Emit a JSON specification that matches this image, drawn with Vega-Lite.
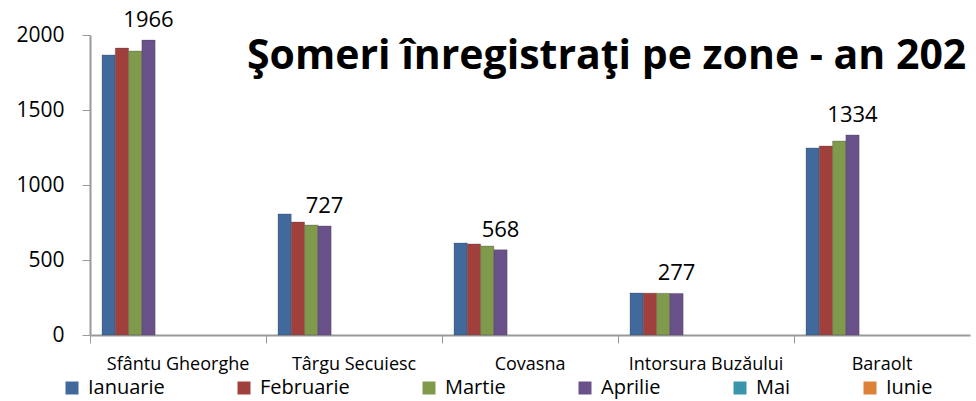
{
  "$schema": "https://vega.github.io/schema/vega-lite/v6.json",
  "autosize": {"type": "none"},
  "width": 880,
  "height": 300,
  "padding": {"left": 90, "top": 35, "right": 6, "bottom": 66},
  "background": "white",
  "config": {
    "view": {"stroke": null},
    "font": "Open Sans"
  },
  "title": {
    "text": "Şomeri înregistraţi pe zone - an 202",
    "anchor": "start",
    "frame": "group",
    "orient": "top",
    "offset": -29,
    "baseline": "alphabetic",
    "dx": 157,
    "dy": 72,
    "font": "Open Sans",
    "fontSize": 41,
    "fontWeight": "bold",
    "color": "#000000"
  },
  "data": {
    "values": [
      {"zona": "Sfântu Gheorghe", "luna": "Ianuarie", "someri": 1867},
      {"zona": "Sfântu Gheorghe", "luna": "Februarie", "someri": 1913},
      {"zona": "Sfântu Gheorghe", "luna": "Martie", "someri": 1893},
      {"zona": "Sfântu Gheorghe", "luna": "Aprilie", "someri": 1966},
      {"zona": "Târgu Secuiesc", "luna": "Ianuarie", "someri": 807},
      {"zona": "Târgu Secuiesc", "luna": "Februarie", "someri": 753},
      {"zona": "Târgu Secuiesc", "luna": "Martie", "someri": 733},
      {"zona": "Târgu Secuiesc", "luna": "Aprilie", "someri": 727},
      {"zona": "Covasna", "luna": "Ianuarie", "someri": 613},
      {"zona": "Covasna", "luna": "Februarie", "someri": 607},
      {"zona": "Covasna", "luna": "Martie", "someri": 593},
      {"zona": "Covasna", "luna": "Aprilie", "someri": 568},
      {"zona": "Intorsura Buzăului", "luna": "Ianuarie", "someri": 280},
      {"zona": "Intorsura Buzăului", "luna": "Februarie", "someri": 279},
      {"zona": "Intorsura Buzăului", "luna": "Martie", "someri": 278},
      {"zona": "Intorsura Buzăului", "luna": "Aprilie", "someri": 277},
      {"zona": "Baraolt", "luna": "Ianuarie", "someri": 1247},
      {"zona": "Baraolt", "luna": "Februarie", "someri": 1260},
      {"zona": "Baraolt", "luna": "Martie", "someri": 1293},
      {"zona": "Baraolt", "luna": "Aprilie", "someri": 1334}
    ]
  },
  "encoding": {
    "x": {
      "field": "zona",
      "type": "nominal",
      "sort": null,
      "scale": {"paddingInner": 0.698, "paddingOuter": 0.349, "align": 0.0977},
      "axis": {
        "title": null,
        "labelAngle": 0,
        "labelFont": "Open Sans",
        "labelFontSize": 18,
        "labelColor": "#000000",
        "labelPadding": 12,
        "bandPosition": 0,
        "tickOffset": -12,
        "labelOffset": 61,
        "tickSize": 8,
        "tickColor": "#9a9a9a",
        "domainColor": "#9a9a9a",
        "domainWidth": 2,
        "labelLimit": 200
      }
    },
    "xOffset": {
      "field": "luna",
      "type": "nominal",
      "scale": {
        "domain": ["Ianuarie", "Februarie", "Martie", "Aprilie"],
        "paddingInner": 0,
        "paddingOuter": 0
      }
    },
    "y": {
      "field": "someri",
      "type": "quantitative",
      "scale": {"domain": [0, 2000]},
      "axis": {
        "title": null,
        "values": [0, 500, 1000, 1500, 2000],
        "format": "d",
        "grid": false,
        "labelFont": "Open Sans",
        "labelFontSize": 21,
        "labelColor": "#000000",
        "labelPadding": 18,
        "tickSize": 8,
        "tickColor": "#9a9a9a",
        "domainColor": "#9a9a9a",
        "domainWidth": 2
      }
    }
  },
  "layer": [
    {
      "mark": {"type": "bar", "stroke": "#2f2f3f", "strokeOpacity": 0.25, "strokeWidth": 1},
      "encoding": {
        "color": {
          "field": "luna",
          "type": "nominal",
          "scale": {
            "domain": ["Ianuarie", "Februarie", "Martie", "Aprilie", "Mai", "Iunie"],
            "range": ["#3F6A9B", "#A0403D", "#80994A", "#6A5189", "#3A95AB", "#DB8236"]
          },
          "legend": {
            "title": null,
            "orient": "none",
            "direction": "horizontal",
            "legendX": -28,
            "legendY": 343,
            "columns": 6,
            "gridAlign": "each",
            "columnPadding": 69,
            "symbolType": "square",
            "symbolSize": 169,
            "symbolStrokeWidth": 0,
            "symbolOpacity": 1,
            "labelFont": "Open Sans",
            "labelFontSize": 20,
            "labelColor": "#000000",
            "labelOffset": 6,
            "labelLimit": 200
          }
        }
      }
    },
    {
      "transform": [{"filter": "datum.luna === 'Aprilie'"}],
      "mark": {"type": "text", "baseline": "bottom", "dy": -8, "font": "Open Sans", "fontSize": 22, "color": "#000000"},
      "encoding": {
        "text": {"field": "someri", "type": "quantitative"}
      }
    }
  ]
}
